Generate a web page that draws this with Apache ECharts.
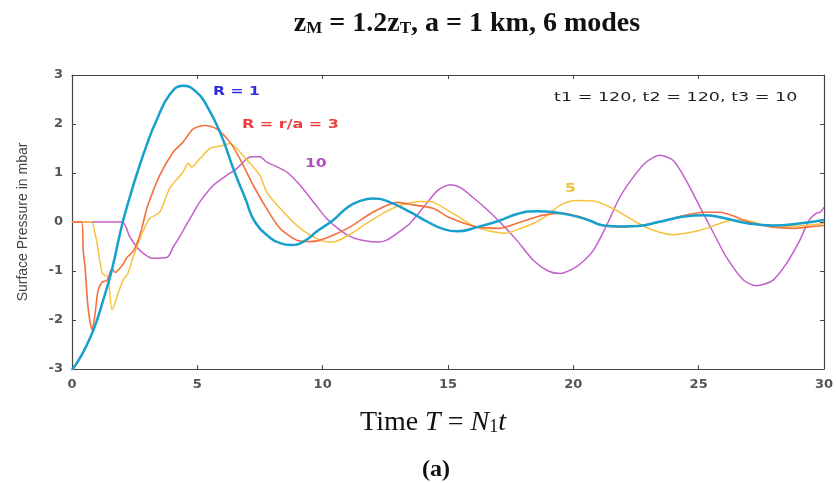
<!DOCTYPE html>
<html>
<head>
<meta charset="utf-8">
<script src="https://cdn.jsdelivr.net/npm/echarts@6/dist/echarts.min.js"></script>
<style>
html,body{margin:0;padding:0;background:#fff;}
#chart{width:836px;height:483px;}
</style>
</head>
<body>
<div id="chart"></div>
<script>
// Axis ticks
var xTicks = [0, 5, 10, 15, 20, 25, 30];
var yTicks = [-3, -2, -1, 0, 1, 2, 3];

// R = 1 (blue)
var seriesR1 = [[0,-3.02],[0.4,-2.7],[0.8,-2.27],[1.0,-2.0],[1.3,-1.5],[1.58,-1.0],[2.0,-0.05],[2.3,0.5],[2.6,1.0],[3.0,1.6],[3.35,2.05],[3.9,2.6],[4.43,2.78],[4.97,2.65],[5.37,2.38],[5.9,1.84],[6.5,1.0],[6.9,0.5],[7.3,0.0],[7.9,-0.32],[8.3,-0.43],[8.76,-0.47],[9.3,-0.38],[9.8,-0.18],[10.4,0.03],[11.0,0.3],[11.5,0.43],[12.0,0.48],[12.6,0.42],[13.5,0.2],[14.2,0.0],[14.8,-0.14],[15.36,-0.19],[16.2,-0.1],[17.07,0.03],[17.8,0.17],[18.55,0.22],[19.2,0.2],[19.9,0.14],[20.6,0.04],[21.2,-0.07],[21.9,-0.09],[22.6,-0.08],[23.4,0.0],[24.3,0.1],[25.2,0.14],[26.0,0.08],[27.0,-0.03],[28.0,-0.07],[29.0,-0.03],[30,0.04]];

// R = r/a = 3 (orange)
var seriesR3 = [[0,0],[0.38,0],[0.45,-0.6],[0.52,-0.92],[0.64,-1.74],[0.8,-2.2],[0.92,-1.87],[1.04,-1.4],[1.2,-1.23],[1.4,-1.19],[1.6,-0.95],[1.72,-1.03],[2.0,-0.89],[2.2,-0.72],[2.44,-0.6],[2.64,-0.37],[2.8,-0.1],[3.0,0.3],[3.5,0.95],[4.04,1.43],[4.43,1.63],[4.84,1.9],[5.3,1.97],[5.77,1.9],[6.3,1.63],[6.7,1.29],[7.23,0.75],[7.77,0.27],[8.3,-0.13],[8.96,-0.37],[9.5,-0.4],[9.9,-0.37],[10.5,-0.25],[11.1,-0.1],[12.0,0.2],[13.0,0.4],[13.6,0.35],[14.4,0.28],[15.1,0.08],[16.15,-0.1],[17.07,-0.13],[17.9,0.0],[18.8,0.14],[19.6,0.18],[20.3,0.1],[21.2,-0.07],[22.1,-0.1],[23.45,0.0],[24.3,0.12],[25.2,0.2],[25.85,0.2],[26.5,0.1],[27.0,0.0],[27.9,-0.1],[28.76,-0.13],[29.4,-0.1],[30,-0.07]];

// R = 5 (yellow)
var seriesR5 = [[0,0],[0.78,0],[0.9,-0.2],[1.0,-0.44],[1.2,-1.03],[1.32,-1.09],[1.44,-1.12],[1.6,-1.8],[1.84,-1.46],[2.03,-1.19],[2.23,-1.05],[2.4,-0.78],[2.8,-0.23],[3.1,0.07],[3.5,0.2],[3.9,0.69],[4.43,1.02],[4.64,1.2],[4.77,1.12],[5.1,1.29],[5.5,1.5],[6.03,1.56],[6.3,1.6],[6.7,1.43],[7.1,1.2],[7.5,0.95],[7.77,0.61],[8.3,0.28],[9.1,-0.13],[9.9,-0.37],[10.4,-0.41],[11.0,-0.28],[11.75,-0.03],[12.5,0.2],[13.1,0.34],[13.9,0.42],[14.3,0.42],[14.8,0.3],[15.5,0.08],[16.1,-0.1],[16.8,-0.2],[17.3,-0.23],[17.8,-0.15],[18.4,-0.03],[19.0,0.15],[19.46,0.34],[20.1,0.44],[20.9,0.42],[21.6,0.27],[22.5,0.0],[23.2,-0.17],[23.97,-0.26],[25.05,-0.17],[25.85,-0.03],[26.25,0.03],[26.8,0.04],[27.5,-0.05],[28.1,-0.11],[29.0,-0.08],[30,-0.03]];

// R = 10 (magenta)
var seriesR10 = [[0,0],[2.0,0],[2.3,-0.3],[2.6,-0.52],[2.9,-0.66],[3.2,-0.74],[3.8,-0.72],[4.05,-0.5],[4.3,-0.3],[4.57,-0.05],[4.8,0.15],[5.1,0.41],[5.64,0.75],[6.17,0.95],[6.57,1.09],[6.97,1.29],[7.17,1.33],[7.5,1.33],[7.77,1.22],[8.03,1.16],[8.57,1.02],[9.1,0.75],[9.63,0.41],[10.16,0.07],[10.7,-0.17],[11.2,-0.32],[11.75,-0.39],[12.2,-0.41],[12.55,-0.37],[13.0,-0.22],[13.48,-0.03],[14.15,0.38],[14.6,0.65],[15.1,0.76],[15.5,0.7],[16.0,0.5],[16.5,0.28],[17.07,0.0],[17.74,-0.37],[18.4,-0.78],[19.0,-1.0],[19.47,-1.05],[20.0,-0.95],[20.4,-0.8],[20.8,-0.58],[21.3,-0.1],[21.86,0.51],[22.4,0.92],[22.9,1.22],[23.45,1.36],[23.98,1.26],[24.5,0.85],[25.05,0.31],[25.6,-0.23],[26.1,-0.71],[26.8,-1.19],[27.3,-1.3],[27.96,-1.19],[28.5,-0.85],[29.04,-0.37],[29.4,0.03],[29.7,0.18],[29.85,0.2],[30,0.3]];

var chart = echarts.init(document.getElementById('chart'), null, {renderer: 'canvas'});

var tickFont = {fontFamily: 'DejaVu Sans', fontWeight: 'bold', fontSize: 13, color: '#555'};
var frameLine = {show: true, onZero: false, lineStyle: {color: '#444', width: 1.2}};
var frameTick = {show: true, inside: true, length: 4, lineStyle: {color: '#444'}};

function mkLine(data, color, width, z) {
  return {type: 'line', data: data, showSymbol: false, smooth: 0.25, z: z,
    lineStyle: {color: color, width: width}, itemStyle: {color: color}, animation: false};
}

chart.setOption({
  animation: false,
  backgroundColor: '#fff',
  title: [{
    text: 'z{s|M} = 1.2z{s|T}, a = 1 km, 6 modes',
    left: 462, top: 5, textAlign: 'center',
    textStyle: {fontFamily: 'Liberation Serif', fontWeight: 'bold', fontSize: 28, color: '#111',
      rich: {s: {fontFamily: 'Liberation Serif', fontWeight: 'bold', fontSize: 17, color: '#111', padding: [9, 0, 0, 0]}}}
  }, {
    text: '(a)', left: 431, top: 453, textAlign: 'center',
    textStyle: {fontFamily: 'Liberation Serif', fontWeight: 'bold', fontSize: 24, color: '#111'}
  }],
  grid: {left: 72, right: 12, top: 75, bottom: 114},
  xAxis: [{
    type: 'value', min: 0, max: 30, interval: 5, position: 'bottom',
    name: 'Time {i|T} = {i|N}{s|1}{i|t}', nameLocation: 'middle', nameGap: 40,
    nameTextStyle: {fontFamily: 'Liberation Serif', fontSize: 28, color: '#111', padding: [0, 30, 0, 0],
      rich: {i: {fontFamily: 'Liberation Serif', fontStyle: 'italic', fontSize: 28, color: '#111'},
             s: {fontFamily: 'Liberation Serif', fontSize: 18, color: '#111', padding: [8, 0, 0, 0]}}},
    axisLine: frameLine, axisTick: frameTick,
    axisLabel: Object.assign({margin: 9, formatter: function (v) { return xTicks.indexOf(v) >= 0 ? String(v) : ''; }}, tickFont),
    splitLine: {show: false}
  }, {
    type: 'value', min: 0, max: 30, interval: 5, position: 'top',
    axisLine: frameLine, axisTick: frameTick,
    axisLabel: {show: false}, splitLine: {show: false}
  }],
  yAxis: [{
    type: 'value', min: -3, max: 3, interval: 1, position: 'left',
    name: 'Surface Pressure in mbar', nameLocation: 'middle', nameGap: 42, nameRotate: 90,
    nameTextStyle: {fontFamily: '"Liberation Sans Narrow", "Liberation Sans", sans-serif', fontSize: 14, color: '#444'},
    axisLine: frameLine, axisTick: frameTick,
    axisLabel: Object.assign({margin: 9, formatter: function (v) { return yTicks.indexOf(v) >= 0 ? String(v) : ''; }}, tickFont),
    splitLine: {show: false}
  }, {
    type: 'value', min: -3, max: 3, interval: 1, position: 'right',
    axisLine: frameLine, axisTick: frameTick,
    axisLabel: {show: false}, splitLine: {show: false}
  }],
  series: [
    mkLine(seriesR10, '#c25fca', 1.5, 2),
    mkLine(seriesR5, '#f7c23e', 1.5, 3),
    mkLine(seriesR3, '#f4703e', 1.6, 4),
    Object.assign(mkLine(seriesR1, '#17a0cc', 2.5, 5), {smooth: true})
  ],
  graphic: [
    {type: 'text', x: 213, y: 92, scaleX: 1.3, style: {text: 'R = 1', font: 'bold 12px "DejaVu Sans"', fill: '#2d2de0', verticalAlign: 'middle'}},
    {type: 'text', x: 242, y: 125, scaleX: 1.33, style: {text: 'R = r/a = 3', font: 'bold 12px "DejaVu Sans"', fill: '#f03c3c', verticalAlign: 'middle'}},
    {type: 'text', x: 305, y: 164, scaleX: 1.3, style: {text: '10', font: 'bold 12px "DejaVu Sans"', fill: '#b24cc2', verticalAlign: 'middle'}},
    {type: 'text', x: 565, y: 189, scaleX: 1.3, style: {text: '5', font: 'bold 12px "DejaVu Sans"', fill: '#efbf3a', verticalAlign: 'middle'}},
    {type: 'text', x: 554, y: 98, scaleX: 1.35, style: {text: 't1 = 120, t2 = 120, t3 = 10', font: '13px "DejaVu Sans"', fill: '#222', verticalAlign: 'middle'}}
  ]
});
</script>
</body>
</html>
